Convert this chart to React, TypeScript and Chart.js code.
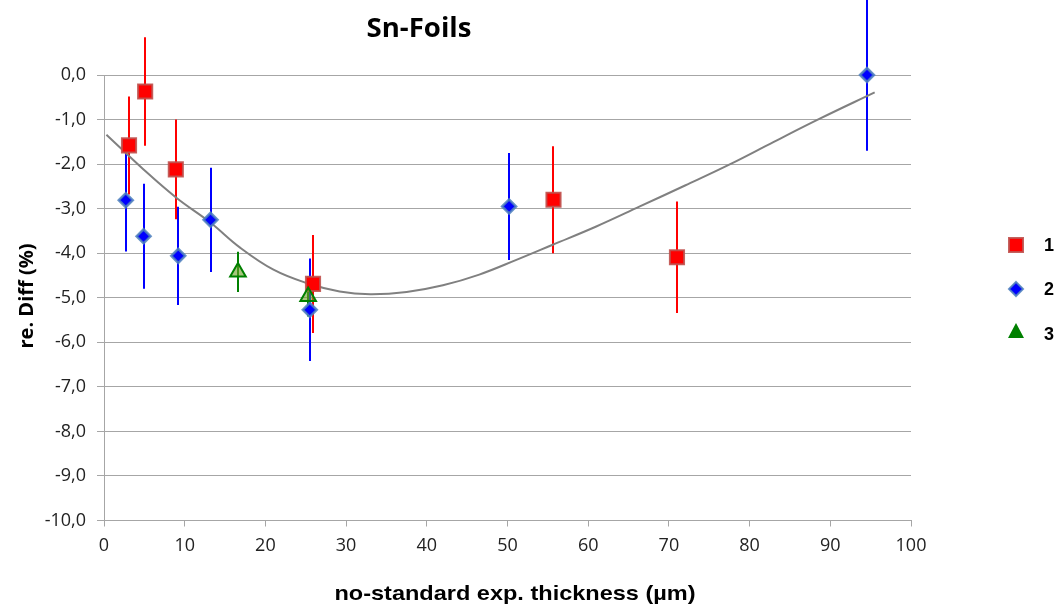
import React, { useEffect, useRef } from 'react';
import { Chart, registerables } from 'chart.js';

Chart.register(...registerables);

// ---- data ----
const chartTitle = 'Sn-Foils';
const xAxisTitle = 'no-standard exp. thickness (µm)';
const yAxisTitle = 're. Diff (%)';
const seriesLabels = ['1', '2', '3'];

const series1X = [3.1, 5.1, 8.9, 25.9, 55.7, 71.0];
const series1Y = [-1.58, -0.37, -2.12, -4.69, -2.8, -4.09];
const series1Err = [1.1, 1.22, 1.12, 1.1, 1.2, 1.25];

const series2X = [2.7, 4.9, 9.2, 13.2, 25.5, 50.2, 94.55];
const series2Y = [-2.81, -3.62, -4.06, -3.25, -5.27, -2.95, 0.0];
const series2Err = [1.15, 1.18, 1.1, 1.17, 1.15, 1.2, 1.7];

const series3X = [16.6, 25.3];
const series3Y = [-4.42, -4.97];
const series3Err = [0.45, 0.45];

const trendX = [0.3, 4.9, 9.0, 13.1, 16.9, 21.0, 25.1, 29.2, 33.0, 37.5, 42.0, 46.5, 51.1, 55.6, 61.0, 66.4, 72.0, 77.6, 83.0, 88.7, 95.5];
const trendY = [-1.34, -2.12, -2.76, -3.3, -3.88, -4.37, -4.67, -4.86, -4.92, -4.87, -4.72, -4.48, -4.15, -3.81, -3.4, -2.95, -2.48, -2.0, -1.5, -0.98, -0.39];

const xMin = 0;
const xMax = 100;
const xStep = 10;
const yMin = -10;
const yMax = 0;
const yStep = 1;

// ---- styles ----
const RED = '#ff0000';
const BLUE = '#0000ff';
const GREEN = '#008000';

const toPts = (xs: number[], ys: number[]) => xs.map((x, i) => ({ x, y: ys[i] }));

const errorBarsPlugin = {
  id: 'errorBars',
  beforeDatasetsDraw(chart: any) {
    const { ctx } = chart;
    const xs = chart.scales.x;
    const ys = chart.scales.y;
    const groups = [
      { X: series1X, Y: series1Y, E: series1Err, c: RED },
      { X: series2X, Y: series2Y, E: series2Err, c: BLUE },
      { X: series3X, Y: series3Y, E: series3Err, c: GREEN },
    ];
    ctx.save();
    ctx.lineWidth = 2;
    groups.forEach((g) => {
      ctx.strokeStyle = g.c;
      g.X.forEach((x, i) => {
        const px = Math.round(xs.getPixelForValue(x));
        ctx.beginPath();
        ctx.moveTo(px, ys.getPixelForValue(g.Y[i] + g.E[i]));
        ctx.lineTo(px, ys.getPixelForValue(g.Y[i] - g.E[i]));
        ctx.stroke();
      });
    });
    ctx.restore();
  },
};

const textPlugin = {
  id: 'texts',
  afterDraw(chart: any) {
    const { ctx } = chart;
    ctx.save();
    ctx.fillStyle = '#000';
    // title
    ctx.save();
    ctx.font = 'bold 26px "Open Sans"';
    ctx.textAlign = 'center';
    ctx.textBaseline = 'alphabetic';
    ctx.translate(419, 37);
    ctx.scale(1.06, 1);
    ctx.fillText(chartTitle, 0, 0);
    ctx.restore();
    // x title
    ctx.save();
    ctx.font = 'bold 21px "Liberation Sans"';
    ctx.textAlign = 'center';
    ctx.translate(515, 600);
    ctx.scale(1.12, 1);
    ctx.fillText(xAxisTitle, 0, 0);
    ctx.restore();
    // y title
    ctx.save();
    ctx.font = 'bold 20px "Open Sans"';
    ctx.textAlign = 'center';
    ctx.textBaseline = 'middle';
    ctx.translate(27, 296);
    ctx.rotate(-Math.PI / 2);
    ctx.fillText(yAxisTitle, 0, 0);
    ctx.restore();

    // legend
    const lx = 1016;
    const rows = [245, 289, 332];
    ctx.fillStyle = RED;
    ctx.strokeStyle = 'rgba(192,80,77,0.9)';
    ctx.lineWidth = 2;
    ctx.fillRect(lx - 7, rows[0] - 7, 14, 14);
    ctx.strokeRect(lx - 7, rows[0] - 7, 14, 14);
    ctx.beginPath();
    ctx.moveTo(lx, rows[1] - 7);
    ctx.lineTo(lx + 7, rows[1]);
    ctx.lineTo(lx, rows[1] + 7);
    ctx.lineTo(lx - 7, rows[1]);
    ctx.closePath();
    ctx.fillStyle = BLUE;
    ctx.strokeStyle = 'rgba(79,129,189,0.85)';
    ctx.fill();
    ctx.stroke();
    ctx.beginPath();
    ctx.moveTo(lx, rows[2] - 9);
    ctx.lineTo(lx + 8, rows[2] + 6);
    ctx.lineTo(lx - 8, rows[2] + 6);
    ctx.closePath();
    ctx.fillStyle = GREEN;
    ctx.fill();

    ctx.fillStyle = '#000';
    ctx.font = 'bold 18px "Liberation Sans"';
    ctx.textAlign = 'left';
    ctx.textBaseline = 'middle';
    seriesLabels.forEach((s, i) => ctx.fillText(s, 1044, rows[i] + (i === 2 ? 3 : 1)));
    ctx.restore();
  },
};

export default function App() {
  const ref = useRef<HTMLCanvasElement>(null);

  useEffect(() => {
    if (!ref.current) return;
    const chart = new Chart(ref.current, {
      type: 'scatter',
      data: {
        datasets: [
          {
            label: 'trend',
            data: toPts(trendX, trendY),
            showLine: true,
            borderColor: '#808080',
            borderWidth: 2,
            pointRadius: 0,
            tension: 0.4,
            order: 10,
            clip: false,
          } as any,
          {
            label: seriesLabels[0],
            data: toPts(series1X, series1Y),
            pointStyle: 'rect',
            pointRadius: 10,
            backgroundColor: RED,
            borderColor: 'rgba(192,80,77,0.9)',
            borderWidth: 2,
            order: 3,
            clip: false,
          },
          {
            label: seriesLabels[1],
            data: toPts(series2X, series2Y),
            pointStyle: 'rectRot',
            pointRadius: 7,
            backgroundColor: BLUE,
            borderColor: 'rgba(79,129,189,0.85)',
            borderWidth: 2.5,
            order: 2,
            clip: false,
          },
          {
            label: seriesLabels[2],
            data: toPts(series3X, series3Y),
            pointStyle: 'triangle',
            pointRadius: 9,
            backgroundColor: 'rgba(110,160,40,0.6)',
            borderColor: GREEN,
            borderWidth: 2,
            order: 1,
            clip: false,
          },
        ],
      },
      options: {
        responsive: false,
        animation: false,
        layout: { padding: { left: 0, right: 151, top: 75, bottom: 0 } },
        plugins: {
          legend: { display: false },
          tooltip: { enabled: false },
          title: { display: false },
        },
        scales: {
          x: {
            type: 'linear',
            min: xMin,
            max: xMax,
            afterFit: (s: any) => {
              s.height = 87.5;
            },
            ticks: {
              stepSize: xStep,
              padding: 9,
              color: '#222',
              font: { family: '"Open Sans"', size: 18 },
            },
            grid: {
              drawOnChartArea: false,
              drawTicks: true,
              tickLength: 6,
              color: '#a6a6a6',
            },
            border: { display: true, color: '#a6a6a6', width: 1 },
          },
          y: {
            type: 'linear',
            min: yMin,
            max: yMax,
            afterFit: (s: any) => {
              s.width = 104;
            },
            ticks: {
              stepSize: yStep,
              padding: 11,
              color: '#222',
              font: { family: '"Open Sans"', size: 18 },
              callback: (v: any) => Number(v).toFixed(1).replace('.', ','),
            },
            grid: {
              color: '#a6a6a6',
              lineWidth: 1,
              tickLength: 7,
            },
            border: { display: true, color: '#a6a6a6', width: 1 },
          },
        },
      },
      plugins: [errorBarsPlugin, textPlugin],
    });
    return () => chart.destroy();
  }, []);

  return (
    <div style={{ position: 'fixed', left: 0, top: 0, width: 1062, height: 608, background: '#fff' }}>
      <canvas ref={ref} width={1062} height={608} style={{ display: 'block' }} />
    </div>
  );
}
